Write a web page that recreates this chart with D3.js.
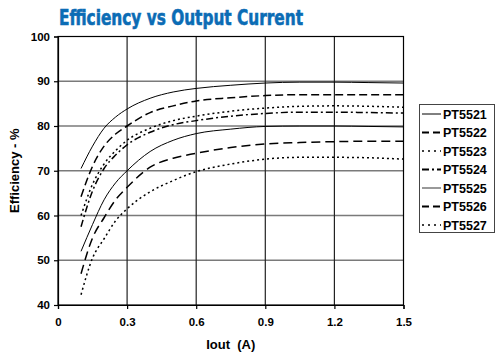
<!DOCTYPE html>
<html>
<head>
<meta charset="utf-8">
<script src="https://cdn.jsdelivr.net/npm/d3@7"></script>
<style>
  html, body { margin: 0; padding: 0; background: #fff; }
  svg { display: block; }
</style>
</head>
<body>
<script>
// ---- data ----
const current = [0.1, 0.15, 0.2, 0.25, 0.3, 0.4, 0.5, 0.6, 0.75, 0.9, 1.05, 1.2, 1.35, 1.5];
const pt5521 = [70.5, 75.5, 79.5, 82.0, 83.8, 86.2, 87.6, 88.4, 89.1, 89.6, 89.8, 89.8, 89.7, 89.6];
const pt5522 = [64.2, 71.0, 75.5, 78.2, 80.0, 83.0, 84.5, 85.6, 86.3, 86.8, 87.0, 87.0, 87.0, 87.0];
const pt5523 = [60.0, 67.0, 71.5, 74.5, 76.8, 79.5, 81.2, 82.2, 83.3, 84.0, 84.4, 84.5, 84.4, 84.2];
const pt5524 = [57.5, 65.5, 70.5, 73.5, 75.8, 78.6, 80.3, 81.2, 82.2, 82.8, 83.1, 83.1, 83.0, 82.9];
const pt5525 = [52.0, 58.0, 63.5, 67.3, 70.0, 74.3, 76.8, 78.3, 79.3, 79.9, 80.0, 80.0, 79.9, 79.8];
const pt5526 = [47.0, 55.0, 59.5, 63.5, 66.3, 70.8, 72.8, 73.9, 75.2, 76.0, 76.3, 76.5, 76.6, 76.6];
const pt5527 = [42.3, 50.5, 54.8, 58.8, 61.5, 65.3, 67.8, 69.8, 71.5, 72.6, 73.0, 73.0, 72.9, 72.6];
const seriesNames = ["PT5521", "PT5522", "PT5523", "PT5524", "PT5525", "PT5526", "PT5527"];
const seriesValues = [pt5521, pt5522, pt5523, pt5524, pt5525, pt5526, pt5527];
const xTicks = [0, 0.3, 0.6, 0.9, 1.2, 1.5];
const xTickLabels = ["0", "0.3", "0.6", "0.9", "1.2", "1.5"];
const yTicks = [40, 50, 60, 70, 80, 90, 100];

// ---- styles ----
const styles = [
  { color: "#000", width: 1,   dash: null },
  { color: "#000", width: 1.5, dash: "8,4" },
  { color: "#000", width: 1.5, dash: "2,3" },
  { color: "#000", width: 1.5, dash: "7,3,2,3" },
  { color: "#000", width: 1,   dash: null },
  { color: "#000", width: 1.5, dash: "9,5" },
  { color: "#000", width: 1.5, dash: "2,3" }
];
const legendStyles = [
  { color: "#000", width: 1,   dash: null },
  { color: "#000", width: 2,   dash: "7,4" },
  { color: "#000", width: 1.5, dash: "2,4" },
  { color: "#000", width: 2,   dash: "7,3,2,3" },
  { color: "#777", width: 1.5, dash: null },
  { color: "#000", width: 2,   dash: "7,4" },
  { color: "#000", width: 1.5, dash: "2,4" }
];

const W = 501, H = 358;
const svg = d3.select("body").append("svg").attr("width", W).attr("height", H);
const font = "'Liberation Sans', Arial, Helvetica, sans-serif";

const x = d3.scaleLinear().domain([0, 1.5]).range([58, 403.5]);
const y = d3.scaleLinear().domain([40, 100]).range([305, 36.5]);

// title
svg.append("text")
  .attr("x", 59).attr("y", 25)
  .attr("textLength", 244).attr("lengthAdjust", "spacingAndGlyphs")
  .attr("font-family", "'Liberation Sans Narrow', 'DejaVu Sans Condensed', 'Liberation Sans', sans-serif")
  .attr("font-weight", "bold").attr("font-size", 22)
  .attr("fill", "#0b6cb5")
  .attr("stroke", "#0b6cb5").attr("stroke-width", 0.6)
  .text("Efficiency vs Output Current");

// grid
const grid = svg.append("g");
grid.selectAll("line.h").data(yTicks.filter(d => d > 40 && d < 100)).join("line")
  .attr("x1", x(0)).attr("x2", x(1.5))
  .attr("y1", d => y(d)).attr("y2", d => y(d))
  .attr("stroke", "#7a7a7a").attr("stroke-width", 1.6);
grid.selectAll("line.v").data(xTicks.filter(d => d > 0 && d < 1.5)).join("line")
  .attr("x1", d => x(d)).attr("x2", d => x(d))
  .attr("y1", y(40)).attr("y2", y(100))
  .attr("stroke", "#222").attr("stroke-width", 1.2);

// frame
svg.append("rect")
  .attr("x", x(0)).attr("y", y(100))
  .attr("width", x(1.5) - x(0)).attr("height", y(40) - y(100))
  .attr("fill", "none").attr("stroke", "#000").attr("stroke-width", 1.2);

// axes
const xAxis = svg.append("g").attr("transform", `translate(0,${y(40)})`)
  .call(d3.axisBottom(x).tickValues(xTicks).tickFormat((d, i) => xTickLabels[i]).tickSize(4).tickPadding(9));
const yAxis = svg.append("g").attr("transform", `translate(${x(0)},0)`)
  .call(d3.axisLeft(y).tickValues(yTicks).tickSize(4).tickPadding(4));
[xAxis, yAxis].forEach(a => {
  a.select(".domain").attr("stroke", "#000").attr("stroke-width", 1.2);
  a.selectAll(".tick line").attr("stroke", "#000").attr("stroke-width", 1.2);
  a.selectAll(".tick text").attr("font-family", font).attr("font-weight", "bold")
    .attr("font-size", 11.5).attr("fill", "#000");
});

// axis titles
svg.append("text")
  .attr("x", (x(0) + x(1.5)) / 2).attr("y", 349)
  .attr("text-anchor", "middle")
  .attr("font-family", font).attr("font-weight", "bold").attr("font-size", 13)
  .attr("xml:space", "preserve")
  .text("Iout  (A)");
svg.append("text")
  .attr("transform", `translate(19,${(y(40) + y(100)) / 2}) rotate(-90)`)
  .attr("text-anchor", "middle")
  .attr("font-family", font).attr("font-weight", "bold").attr("font-size", 13)
  .text("Efficiency - %");

// lines
const line = d3.line().x(d => x(d[0])).y(d => y(d[1])).curve(d3.curveMonotoneX);
const lines = svg.append("g");
seriesValues.forEach((vals, i) => {
  lines.append("path")
    .datum(current.map((c, j) => [c, vals[j]]))
    .attr("d", line)
    .attr("fill", "none")
    .attr("stroke", styles[i].color)
    .attr("stroke-width", styles[i].width)
    .attr("stroke-dasharray", styles[i].dash);
});

// legend
const lg = svg.append("g");
lg.append("rect").attr("x", 419.5).attr("y", 104.5).attr("width", 75).attr("height", 128)
  .attr("fill", "#fff").attr("stroke", "#444").attr("stroke-width", 1);
const ly = d3.scalePoint().domain(seriesNames).range([114, 225]);
seriesNames.forEach((n, i) => {
  lg.append("line")
    .attr("x1", 422).attr("x2", 441)
    .attr("y1", ly(n)).attr("y2", ly(n))
    .attr("stroke", legendStyles[i].color)
    .attr("stroke-width", legendStyles[i].width)
    .attr("stroke-dasharray", legendStyles[i].dash);
  lg.append("text")
    .attr("x", 443).attr("y", ly(n) + 4.5)
    .attr("font-family", font).attr("font-weight", "bold").attr("font-size", 12.5)
    .text(n);
});
</script>
</body>
</html>
